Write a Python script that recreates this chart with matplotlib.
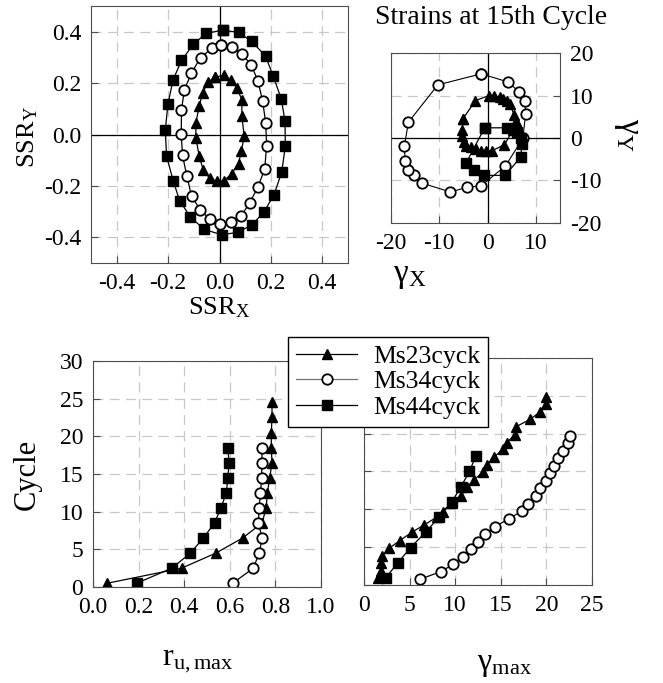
import matplotlib
matplotlib.use("Agg")
import matplotlib.pyplot as plt
import numpy as np

plt.rcParams['font.family'] = ['Liberation Serif', 'DejaVu Serif']
plt.rcParams['mathtext.fontset'] = 'stix'
plt.rcParams['axes.unicode_minus'] = False

# --- stress ratio paths (SSR_X, SSR_Y) ---
ssr23_x = [-0.019, 0.016, 0.045, 0.067, 0.087, 0.087, 0.096, 0.085, 0.074, 0.047,
           0.018, -0.008, -0.038, -0.063, -0.079, -0.092, -0.092, -0.079, -0.066, -0.044]
ssr23_y = [0.223, 0.230, 0.213, 0.181, 0.136, 0.071, -0.006, -0.065, -0.113, -0.153,
           -0.179, -0.182, -0.171, -0.139, -0.084, -0.013, 0.045, 0.110, 0.162, 0.204]
ssr34_x = [0.005, 0.047, 0.088, 0.124, 0.149, 0.168, 0.180, 0.183, 0.176, 0.149, 0.118,
           0.084, 0.044, 0.003, -0.038, -0.076, -0.109, -0.127, -0.144, -0.149, -0.148,
           -0.137, -0.110, -0.074, -0.030]
ssr34_y = [0.348, 0.342, 0.314, 0.269, 0.210, 0.129, 0.043, -0.045, -0.134, -0.205, -0.265,
           -0.317, -0.342, -0.348, -0.330, -0.292, -0.239, -0.162, -0.081, 0.001, 0.095,
           0.173, 0.238, 0.299, 0.335]
ssr44_x = [0.013, 0.074, 0.126, 0.179, 0.209, 0.240, 0.255, 0.256, 0.242, 0.212, 0.174,
           0.126, 0.070, 0.008, -0.060, -0.113, -0.155, -0.180, -0.206, -0.211, -0.201,
           -0.181, -0.148, -0.102, -0.052]
ssr44_y = [0.406, 0.397, 0.362, 0.305, 0.227, 0.140, 0.051, -0.045, -0.147, -0.234, -0.300,
           -0.352, -0.381, -0.390, -0.369, -0.321, -0.258, -0.181, -0.084, 0.016, 0.117,
           0.212, 0.288, 0.351, 0.394]

# --- strains at 15th cycle (gamma_X, gamma_Y) ---
g23_x = [-5.1, -2.5, 0.3, 1.4, 2.5, 3.3, 4.0, 4.7, 5.5, 5.8, 5.2, 3.5, 0.9, -0.3, -1.3,
         -2.3, -3.5, -4.4, -4.9, -5.2, -5.2]
g23_y = [4.5, 8.8, 10.0, 9.9, 9.6, 9.2, 8.7, 8.0, 5.3, 3.9, 1.8, -1.6, -3.0, -3.0, -3.0,
         -2.6, -2.2, -1.8, -1.0, 0.4, 2.0]
g34_x = [-1.3, 4.2, 6.6, 7.7, 7.9, 7.3, 3.7, -1.3, -4.2, -7.7, -13.6, -15.3, -16.4,
         -17.1, -17.2, -16.4, -10.3]
g34_y = [15.1, 13.2, 10.8, 8.8, 5.7, -0.1, -6.6, -11.2, -11.6, -12.7, -10.6, -8.8, -7.6,
         -5.4, -1.8, 3.7, 12.5]
g44_x = [-0.6, 4.0, 6.1, 6.9, 7.1, 6.9, 3.7, -0.8, -2.8, -4.4]
g44_y = [2.4, 2.4, 1.4, -0.1, -1.3, -4.4, -8.8, -8.8, -7.6, -5.8]

# --- max pore pressure ratio vs cycle ---
ru23 = [0.063, 0.389, 0.539, 0.656, 0.742, 0.759, 0.765, 0.775, 0.785, 0.782, 0.782, 0.785, 0.785]
cyc23 = [0.5, 2.5, 4.5, 6.5, 8.5, 10.5, 12.5, 14.5, 16.5, 18.5, 20.5, 22.5, 24.5]
ru34 = [0.613, 0.703, 0.729, 0.742, 0.725, 0.729, 0.734, 0.740, 0.740, 0.742]
cyc34 = [0.5, 2.5, 4.5, 6.5, 8.5, 10.5, 12.5, 14.5, 16.5, 18.5]
ru44 = [0.192, 0.346, 0.427, 0.484, 0.533, 0.561, 0.585, 0.591, 0.597, 0.591]
cyc44 = [0.5, 2.5, 4.5, 6.5, 8.5, 10.5, 12.5, 14.5, 16.5, 18.5]

# --- max shear strain vs cycle ---
gm23 = [1.54, 1.83, 1.91, 1.91, 2.02, 2.75, 3.93, 5.25, 6.60, 7.96, 8.62, 9.61, 10.64,
        11.26, 12.07, 13.02, 13.46, 14.27, 15.22, 15.66, 16.51, 16.65, 18.23, 19.33, 20.0, 20.0]
gc23 = [0.88, 1.19, 1.90, 2.87, 3.88, 4.85, 5.87, 6.97, 7.94, 8.95, 9.70, 10.9, 11.8,
        12.9, 13.9, 14.9, 15.9, 16.9, 17.95, 18.8, 19.85, 20.9, 21.9, 22.9, 23.9, 24.9]
gm34 = [6.13, 8.40, 9.79, 10.82, 11.70, 12.47, 13.28, 14.38, 15.85, 17.35, 17.94, 18.86,
        19.26, 19.99, 20.36, 20.87, 21.28, 21.83, 22.34, 22.63]
gc34 = [0.75, 1.76, 2.73, 3.75, 4.72, 5.73, 6.70, 7.72, 8.73, 9.79, 10.76, 11.82, 12.79,
        13.76, 14.78, 15.75, 16.76, 17.73, 18.75, 19.72]
gm44 = [2.38, 3.74, 5.10, 6.75, 8.22, 9.61, 10.64, 11.56, 12.25]
gc44 = [0.97, 2.96, 4.94, 6.97, 8.95, 10.94, 13.0, 15.0, 17.0]

names = ["Ms23cyck", "Ms34cyck", "Ms44cyck"]
sty = [dict(marker='^', color='k', mfc='k', mec='k', ms=7.5, lw=0.9),
       dict(marker='o', color='k', mfc='white', mec='k', mew=1.3, ms=7.5, lw=0.9),
       dict(marker='s', color='k', mfc='k', mec='k', ms=6.5, lw=0.9)]

def closed(a):
    return list(a) + [a[0]]

def style(ax):
    ax.grid(True, color='#c8c8c8', linestyle=(0, (8, 5)), lw=0.9)
    ax.set_axisbelow(True)
    for s in ax.spines.values():
        s.set_color('0.3')
    ax.tick_params(direction='in', length=5, color='0.3', labelsize=17, pad=7)

fig = plt.figure(figsize=(6.63, 6.83), dpi=100)

# top left
ax1 = fig.add_axes([0.1373, 0.6149, 0.3876, 0.3763])
for xs, ys, st in zip([ssr23_x, ssr34_x, ssr44_x], [ssr23_y, ssr34_y, ssr44_y], sty):
    ax1.plot(closed(xs), closed(ys), **st)
ax1.axhline(0, color='k', lw=0.9, zorder=1)
ax1.axvline(0, color='k', lw=0.9, zorder=1)
ax1.set_xlim(-0.5, 0.5)
ax1.set_ylim(-0.5, 0.5)
ax1.set_xticks([-0.4, -0.2, 0.0, 0.2, 0.4])
ax1.set_yticks([-0.4, -0.2, 0.0, 0.2, 0.4])
style(ax1)
ax1.set_xlabel('SSR$_{\\mathregular{X}}$', fontsize=19, va='center')
ax1.xaxis.set_label_coords(0.5, -0.172)
ax1.set_ylabel('SSR$_{\\mathregular{Y}}$', fontsize=19, va='center')
ax1.yaxis.set_label_coords(-0.245, 0.49)

# top right
ax2 = fig.add_axes([0.5897, 0.6735, 0.2549, 0.2489])
ax2.plot(closed(g23_x), closed(g23_y), **sty[0])
ax2.plot(closed(g34_x), closed(g34_y), **{**sty[1], 'lw': 0.8})
ax2.plot(closed(g44_x), closed(g44_y), **sty[2])
ax2.axhline(0, color='k', lw=0.9, zorder=1)
ax2.axvline(0, color='k', lw=0.9, zorder=1)
ax2.set_xlim(-20, 15)
ax2.set_ylim(-20, 20)
ax2.set_xticks([-20, -10, 0, 10])
ax2.set_yticks([-20, -10, 0, 10, 20])
style(ax2)
ax2.yaxis.tick_right()
ax2.set_xlabel('γ$_{\\mathregular{X}}$', fontsize=24, va='center')
ax2.xaxis.set_label_coords(0.112, -0.31)
ax2.yaxis.set_label_position('right')
ax2.set_ylabel('γ$_{\\mathregular{Y}}$', fontsize=24, rotation=270, va='center')
ax2.yaxis.set_label_coords(1.40, 0.518)
fig.text(0.741, 0.974, 'Strains at 15th Cycle', fontsize=20, ha='center', va='center')

# bottom left
ax3 = fig.add_axes([0.1403, 0.1406, 0.3439, 0.3309])
lines = []
for xs, ys, st in zip([ru23, ru34, ru44], [cyc23, cyc34, cyc44], sty):
    lines += ax3.plot(xs, ys, **st)
ax3.set_xlim(0, 1.0)
ax3.set_ylim(0, 30)
ax3.set_xticks(np.arange(0, 1.01, 0.2))
ax3.set_xticklabels(['0.0', '0.2', '0.4', '0.6', '0.8', '1.0'])
ax3.set_yticks(range(0, 31, 5))
style(ax3)
ax3.set_xlabel('r$_{\\mathregular{u,max}}$', fontsize=23, va='center')
ax3.xaxis.set_label_coords(0.46, -0.32)
ax3.set_ylabel('Cycle', fontsize=22, va='center')
ax3.yaxis.set_label_coords(-0.29, 0.496)

# bottom right
ax4 = fig.add_axes([0.549, 0.1435, 0.3439, 0.3324])
for xs, ys, st in zip([gm23, gm34, gm44], [gc23, gc34, gc44], sty):
    ax4.plot(xs, ys, **st)
ax4.set_xlim(0, 25)
ax4.set_ylim(0, 30)
ax4.set_xticks(range(0, 26, 5))
ax4.set_yticks(range(0, 31, 5))
style(ax4)
ax4.set_yticklabels([])
ax4.set_xlabel('γ$_{\\mathregular{max}}$', fontsize=23, va='center')
ax4.xaxis.set_label_coords(0.618, -0.35)

# legend shows the Ms34 line in grey
lines[1].set_color('0.45')
leg = fig.legend(lines, names, loc='upper left', bbox_to_anchor=(0.4344, 0.5066),
                 borderaxespad=0, fontsize=18.5, frameon=True, fancybox=False,
                 edgecolor='k', framealpha=1, handlelength=2.4, labelspacing=0.1,
                 borderpad=0.3, handletextpad=0.6)
leg.get_frame().set_linewidth(1.0)
leg.set_zorder(10)
lines[1].set_color('k')

fig.savefig("out.png", dpi=100)
